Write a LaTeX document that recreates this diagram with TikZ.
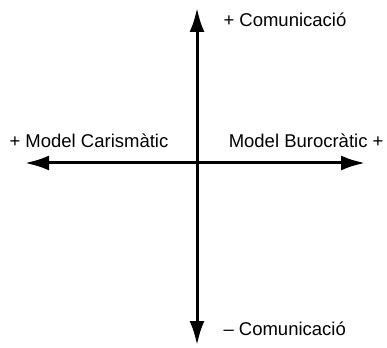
\documentclass[tikz,border=0pt]{standalone}
\usepackage{fontspec}
\setmainfont{Liberation Sans}
\usepackage{tikz}
\usetikzlibrary{
    calc,
    arrows.meta
}

\begin{document}
\begin{tikzpicture}[x=1pt,y=-1pt,line width=3pt,
    eix/.style={{Latex[length=24pt,width=15pt]}-{Latex[length=24pt,width=15pt]}},
    etiq/.style={inner sep=0pt,font=\fontsize{18.5}{22}\selectfont}]
\useasboundingbox (0,0) rectangle (387,347);
%\draw [help lines](0,0) grid (387,347);
\coordinate (T) at (197,8);
\coordinate (B) at (197,345);
\coordinate (L) at (25,163);
\coordinate (R) at (365,163);
\draw [eix] (T) -- (B);
\draw [eix] (L) -- (R);
\node [etiq,anchor=base west] (Cmes) at (222,27) {+ Comunicació};
\node [etiq,anchor=base west] (Cmenys) at (222,335) {– Comunicació};
\node [etiq,anchor=base west] (Car) at (8,148) {+ Model Carismàtic};
\node [etiq,anchor=base east] (Bur) at (385,148) {Model Burocràtic +};
\end{tikzpicture}
\end{document}
